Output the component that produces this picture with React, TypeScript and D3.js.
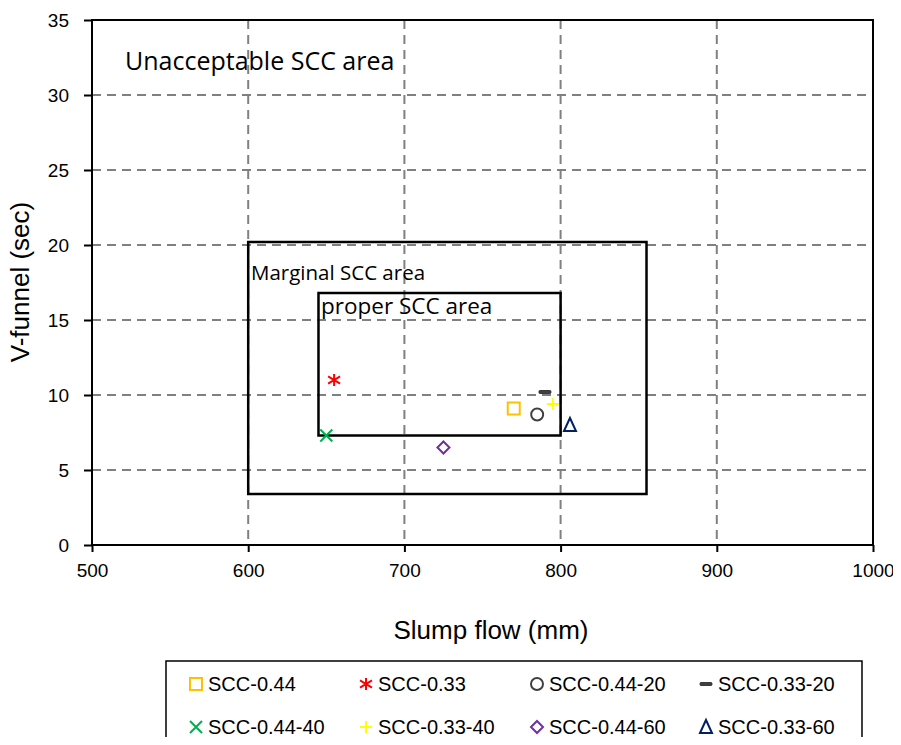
import React, { useEffect, useRef } from "react";
import * as d3 from "d3";

const seriesNames = [
  "SCC-0.44", "SCC-0.33", "SCC-0.44-20", "SCC-0.33-20",
  "SCC-0.44-40", "SCC-0.33-40", "SCC-0.44-60", "SCC-0.33-60",
];
const slumpFlow = [770, 655, 785, 790, 650, 795, 725, 806];
const vFunnel = [9.1, 11.0, 8.7, 10.2, 7.3, 9.4, 6.5, 8.0];
const markerKinds = ["square", "asterisk", "circle", "dash", "cross", "plus", "diamond", "triangle"];
const colors = ["#FFC000", "#FF0000", "#404040", "#404040", "#00B050", "#FFFF00", "#7030A0", "#002060"];

const xTicks = [500, 600, 700, 800, 900, 1000];
const yTicks = [0, 5, 10, 15, 20, 25, 30, 35];

// zone rectangles [x0, x1, y0, y1]
const marginalZone = [600, 855, 3.4, 20.2];
const properZone = [645, 800, 7.3, 16.8];

function drawMarker(g, kind, color) {
  const s = 6;
  if (kind === "square") {
    g.append("rect").attr("x", -s).attr("y", -s).attr("width", 2 * s).attr("height", 2 * s)
      .attr("fill", "none").attr("stroke", color).attr("stroke-width", 2);
  } else if (kind === "circle") {
    g.append("circle").attr("r", s).attr("fill", "none").attr("stroke", color).attr("stroke-width", 2);
  } else if (kind === "diamond") {
    g.append("path").attr("d", `M0,${-s}L${s},0L0,${s}L${-s},0Z`)
      .attr("fill", "none").attr("stroke", color).attr("stroke-width", 2);
  } else if (kind === "triangle") {
    g.append("path").attr("d", `M0,${-s - 1}L${s},${s}L${-s},${s}Z`)
      .attr("fill", "none").attr("stroke", color).attr("stroke-width", 2);
  } else if (kind === "cross") {
    g.append("path").attr("d", `M${-s},${-s}L${s},${s}M${-s},${s}L${s},${-s}`)
      .attr("stroke", color).attr("stroke-width", 2);
  } else if (kind === "plus") {
    g.append("path").attr("d", `M${-s},0L${s},0M0,${-s}L0,${s}`)
      .attr("stroke", color).attr("stroke-width", 2);
  } else if (kind === "asterisk") {
    g.append("path").attr("d", `M0,${-s}L0,${s}M${-s},${-s * 0.6}L${s},${s * 0.6}M${-s},${s * 0.6}L${s},${-s * 0.6}`)
      .attr("stroke", color).attr("stroke-width", 2);
  } else if (kind === "dash") {
    g.append("rect").attr("x", -s).attr("y", -1.5).attr("width", 2 * s).attr("height", 3)
      .attr("rx", 1).attr("fill", color).attr("stroke", "#222").attr("stroke-width", 0.8);
  }
}

function ScatterChart({ width, height }) {
  const ref = useRef(null);

  useEffect(() => {
    const svg = d3.select(ref.current).attr("width", width).attr("height", height);
    svg.selectAll("*").remove();
    const font = "'Liberation Sans', Arial, sans-serif";

    const xScale = d3.scaleLinear().domain([500, 1000]).range([92, 873]);
    const yScale = d3.scaleLinear().domain([0, 35]).range([545, 20]);

    // grid
    const grid = svg.append("g");
    grid.selectAll("line.v").data(xTicks.slice(1, -1)).join("line")
      .attr("x1", (d) => xScale(d)).attr("x2", (d) => xScale(d))
      .attr("y1", yScale(35)).attr("y2", yScale(0))
      .attr("stroke", "#808080").attr("stroke-width", 2).attr("stroke-dasharray", "9,6");
    grid.selectAll("line.h").data(yTicks.slice(1, -1)).join("line")
      .attr("x1", xScale(500)).attr("x2", xScale(1000))
      .attr("y1", (d) => yScale(d)).attr("y2", (d) => yScale(d))
      .attr("stroke", "#808080").attr("stroke-width", 2).attr("stroke-dasharray", "9,6");

    // plot border
    svg.append("rect")
      .attr("x", xScale(500)).attr("y", yScale(35))
      .attr("width", xScale(1000) - xScale(500)).attr("height", yScale(0) - yScale(35))
      .attr("fill", "none").attr("stroke", "#000").attr("stroke-width", 2);

    // axes
    const xAxis = svg.append("g").attr("transform", `translate(0, ${yScale(0)})`)
      .call(d3.axisBottom(xScale).tickValues(xTicks).tickSize(7).tickFormat(d3.format("d")));
    const yAxis = svg.append("g").attr("transform", `translate(${xScale(500)}, 0)`)
      .call(d3.axisLeft(yScale).tickValues(yTicks).tickSize(8).tickFormat(d3.format("d")));
    [xAxis, yAxis].forEach((a) => {
      a.select(".domain").remove();
      a.selectAll("line").attr("stroke", "#000").attr("stroke-width", 2);
      a.selectAll("text").attr("font-family", font).attr("font-size", 19).attr("fill", "#000");
    });
    xAxis.selectAll("text").attr("dy", "0.71em").attr("y", 19);
    yAxis.selectAll("text").attr("x", -23);

    // zones
    [marginalZone, properZone].forEach((z) => {
      svg.append("rect")
        .attr("x", xScale(z[0])).attr("y", yScale(z[3]))
        .attr("width", xScale(z[1]) - xScale(z[0])).attr("height", yScale(z[2]) - yScale(z[3]))
        .attr("fill", "none").attr("stroke", "#000").attr("stroke-width", 2.5);
    });

    const zoneFont = "'Open Sans', 'Liberation Sans', sans-serif";
    svg.append("text").attr("x", 125).attr("y", 70).attr("font-family", zoneFont)
      .attr("font-size", 25).text("Unacceptable SCC area");
    svg.append("text").attr("x", 251).attr("y", 280).attr("font-family", zoneFont)
      .attr("font-size", 20.5).text("Marginal SCC area");
    svg.append("text").attr("x", 321).attr("y", 314).attr("font-family", zoneFont)
      .attr("font-size", 22.5).text("proper SCC area");

    // points
    seriesNames.forEach((name, i) => {
      const g = svg.append("g")
        .attr("transform", `translate(${xScale(slumpFlow[i])}, ${yScale(vFunnel[i])})`);
      drawMarker(g, markerKinds[i], colors[i]);
    });

    // axis titles
    svg.append("text").attr("x", 491).attr("y", 639).attr("text-anchor", "middle")
      .attr("font-family", font).attr("font-size", 26).text("Slump flow (mm)");
    svg.append("text").attr("transform", "rotate(-90)")
      .attr("x", -282).attr("y", 29).attr("text-anchor", "middle")
      .attr("font-family", font).attr("font-size", 26).text("V-funnel (sec)");

    // legend
    svg.append("rect").attr("x", 166).attr("y", 661).attr("width", 696).attr("height", 100)
      .attr("fill", "none").attr("stroke", "#000").attr("stroke-width", 1.5);
    const colX = [196, 366, 537, 706];
    const rowY = [684, 727];
    seriesNames.forEach((name, i) => {
      const cx = colX[i % 4];
      const cy = rowY[Math.floor(i / 4)];
      const g = svg.append("g").attr("transform", `translate(${cx}, ${cy})`);
      drawMarker(g, markerKinds[i], colors[i]);
      svg.append("text").attr("x", cx + 12).attr("y", cy + 7)
        .attr("font-family", font).attr("font-size", 20).text(name);
    });
  }, [width, height]);

  return <svg ref={ref} style={{ display: "block" }}></svg>;
}

export default function App() {
  return (
    <div style={{ margin: -8, background: "#fff" }}>
      <ScatterChart width={901} height={745} />
    </div>
  );
}
